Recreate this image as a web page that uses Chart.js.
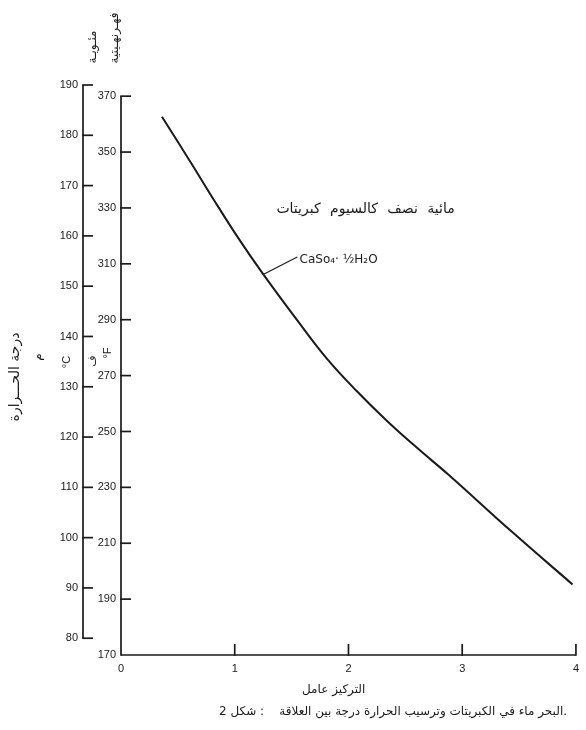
<!DOCTYPE html>
<html><head><meta charset="utf-8">
<script src="https://cdn.jsdelivr.net/npm/chart.js@4.4.0/dist/chart.umd.min.js"></script>
<style>html,body{margin:0;padding:0;background:#fff}#wrap{width:586px;height:730px}</style>
</head><body><div id="wrap"><canvas id="c" width="586" height="730"></canvas></div>
<script>
// ---- data ----
const concentration = [0.36, 0.63, 0.81, 1.03, 1.25, 1.57, 1.81, 2.07, 2.33, 2.59, 2.88, 3.43, 3.97];
const tempC        = [183.7, 174.0, 167.4, 159.6, 152.4, 142.6, 135.6, 129.2, 123.4, 118.1, 112.5, 101.3, 90.7];
const xTicks = [0, 1, 2, 3, 4];
const celsiusTicks = [80, 90, 100, 110, 120, 130, 140, 150, 160, 170, 180, 190];
const fahrenheitTicks = [170, 190, 210, 230, 250, 270, 290, 310, 330, 350, 370];

const LRM = '\u200E';
const curveLabelWords = ['كبريتات', 'كالسيوم', 'نصف', 'مائية'];
const compoundLabel = 'CaSo₄· ½H₂O';
const xTitleWords = ['عامل', 'التركيز'];
const captionWords = ['العلاقة', 'بين', 'درجة', 'الحرارة', 'وترسيب', 'الكبريتات', 'في', 'ماء', 'البحر.'];
const captionHead = 'شكل 2 :';
const yTitle = 'درجة الحـــرارة';
const cUnitAr = 'م', cUnit = '°C', fUnitAr = 'ف', fUnit = '°F';
const cTopAr = 'مئـويـة', fTopAr = 'فهـرنهـيتية';

const ink = '#1a1a1a';
const toF = c => c * 1.8 + 32;
const toC = f => (f - 32) / 1.8;

const points = concentration.map((x, i) => ({ x, y: tempC[i] }));

function setTicks(list) { return s => { s.ticks = list.map(v => ({ value: v })); }; }

const decor = {
  id: 'decor',
  afterDraw(chart) {
    const { ctx, chartArea, scales } = chart;
    const x = scales.x, c = scales.c, f = scales.f;
    ctx.save();
    ctx.strokeStyle = ink; ctx.fillStyle = ink; ctx.lineWidth = 1.7;
    const line = (x1, y1, x2, y2) => { ctx.beginPath(); ctx.moveTo(x1, y1); ctx.lineTo(x2, y2); ctx.stroke(); };
    // Celsius axis
    const cx = c.right;
    line(cx, c.getPixelForValue(celsiusTicks[0]), cx, c.getPixelForValue(celsiusTicks[celsiusTicks.length - 1]));
    celsiusTicks.forEach(v => { const y = c.getPixelForValue(v); line(cx - 0.8, y, cx + 10, y); });
    // Fahrenheit axis
    const fx = chartArea.left;
    line(fx, f.getPixelForValue(fahrenheitTicks[0]) + 0.8, fx, f.getPixelForValue(fahrenheitTicks[fahrenheitTicks.length - 1]));
    fahrenheitTicks.slice(1).forEach(v => { const y = f.getPixelForValue(v); line(fx - 0.8, y, fx + 10, y); });
    // x axis
    const by = chartArea.bottom;
    line(x.getPixelForValue(xTicks[0]), by, x.getPixelForValue(xTicks[xTicks.length - 1]), by);
    xTicks.slice(1).forEach(v => { const px = x.getPixelForValue(v); line(px, by + 0.8, px, by - 11); });

    // leader line from curve to compound label
    ctx.lineWidth = 1.1;
    line(x.getPixelForValue(1.25), c.getPixelForValue(152.3), x.getPixelForValue(1.55), c.getPixelForValue(155.8));

    // texts
    ctx.textBaseline = 'middle';
    ctx.font = '14px "DejaVu Sans", sans-serif'; ctx.textAlign = 'center';
    ctx.wordSpacing = '5px';
    ctx.fillText(curveLabelWords.join(LRM + ' ' + LRM), x.getPixelForValue(2.15), c.getPixelForValue(165.2));
    ctx.wordSpacing = '0px';
    ctx.font = '12px "DejaVu Sans", sans-serif'; ctx.textAlign = 'left';
    ctx.fillText(compoundLabel, x.getPixelForValue(1.57), c.getPixelForValue(155.2));
    ctx.font = '12px "DejaVu Sans", sans-serif'; ctx.textAlign = 'center';
    ctx.fillText(xTitleWords.join(LRM + ' ' + LRM), x.getPixelForValue(1.87), by + 35);
    ctx.fillText(LRM + captionHead + LRM + '    ' + captionWords.join(LRM + ' ' + LRM), 393, by + 57);

    const vtext = (str, px, py, font) => {
      ctx.save(); ctx.translate(px, py); ctx.rotate(-Math.PI / 2);
      ctx.font = font; ctx.textAlign = 'center'; ctx.textBaseline = 'middle';
      ctx.fillText(str, 0, 0); ctx.restore();
    };
    const midY = (chartArea.top + chartArea.bottom) / 2;
    vtext(yTitle, 15, midY + 7, '14px "DejaVu Sans", sans-serif');
    vtext(cUnitAr, 38, midY - 13, '12px "DejaVu Sans", sans-serif');
    vtext(cUnit, 67, midY - 8, '11px "Liberation Sans", sans-serif');
    vtext(fUnitAr, 92, midY - 9, '11px "DejaVu Sans", sans-serif');
    vtext(fUnit, 108, midY - 17, '11px "Liberation Sans", sans-serif');
    vtext(cTopAr, 93, 47, '12px "DejaVu Sans", sans-serif');
    vtext(fTopAr, 115, 38, '12px "DejaVu Sans", sans-serif');
    ctx.restore();
  }
};

const tickFont = { family: '"Liberation Sans", Arial, sans-serif', size: 11 };

new Chart(document.getElementById('c'), {
  type: 'line',
  data: { datasets: [{ data: points, yAxisID: 'c', borderColor: ink, borderWidth: 2, pointRadius: 0, fill: false, tension: 0.4 }] },
  options: {
    responsive: false, animation: false, devicePixelRatio: 1,
    layout: { padding: { left: 43, right: 4, top: 85, bottom: 0 } },
    plugins: { legend: { display: false }, tooltip: { enabled: false } },
    scales: {
      x: {
        type: 'linear', min: xTicks[0], max: xTicks[xTicks.length - 1],
        afterBuildTicks: setTicks(xTicks), afterFit: s => { s.height = 75; },
        grid: { display: false, drawTicks: false }, border: { display: false },
        ticks: { autoSkip: false, maxRotation: 0, padding: 7, color: ink, font: tickFont }
      },
      c: {
        type: 'linear', position: 'left', weight: 1,
        min: toC(fahrenheitTicks[0]), max: celsiusTicks[celsiusTicks.length - 1],
        afterBuildTicks: setTicks(celsiusTicks), afterFit: s => { s.width = 40; },
        grid: { display: false, drawTicks: false }, border: { display: false },
        ticks: { padding: 5, color: ink, font: tickFont }
      },
      f: {
        type: 'linear', position: 'left', weight: 0,
        min: fahrenheitTicks[0], max: toF(celsiusTicks[celsiusTicks.length - 1]),
        afterBuildTicks: setTicks(fahrenheitTicks), afterFit: s => { s.width = 38; },
        grid: { display: false, drawTicks: false }, border: { display: false },
        ticks: { padding: 5, color: ink, font: tickFont }
      }
    }
  },
  plugins: [decor]
});
</script></body></html>
